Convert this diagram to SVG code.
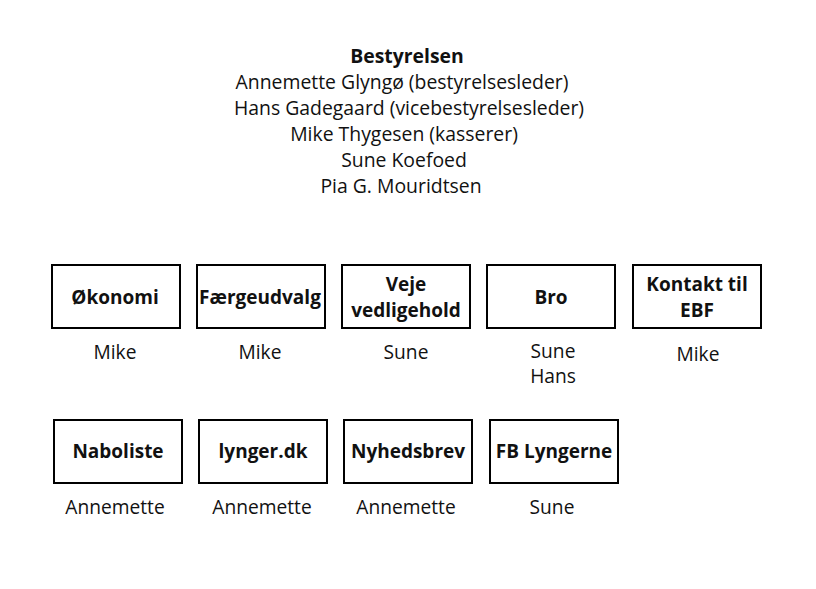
<svg xmlns="http://www.w3.org/2000/svg" width="816" height="589" viewBox="0 0 816 589">
<style>
text{font-family:"Open Sans","Liberation Sans",sans-serif;fill:#111;text-anchor:middle}
.h{font-size:19.4px}
.b{font-size:19.4px;font-weight:bold}
.n{font-size:19px;font-weight:bold}
.l{font-size:19.2px}
rect{fill:#fff;stroke:#000;stroke-width:2}
</style>
<rect x="0" y="0" width="816" height="589" style="stroke:none"/>
<g id="bestyrelsen">
<text class="b" x="407" y="63">Bestyrelsen</text>
<text class="h" x="402" y="89">Annemette Glyngø (bestyrelsesleder)</text>
<text class="h" x="409" y="115">Hans Gadegaard (vicebestyrelsesleder)</text>
<text class="h" x="404" y="141">Mike Thygesen (kasserer)</text>
<text class="h" x="404" y="167">Sune Koefoed</text>
<text class="h" x="401" y="193">Pia G. Mouridtsen</text>
</g>
<g id="connectors"></g>
<g id="okonomi"><rect x="52" y="265" width="128" height="63"/><text class="n" x="115" y="304">Økonomi</text><text class="l" x="115" y="359">Mike</text></g>
<g id="faergeudvalg"><rect x="197" y="265" width="128" height="63"/><text class="n" x="260" y="304">Færgeudvalg</text><text class="l" x="260" y="359">Mike</text></g>
<g id="veje"><rect x="342" y="265" width="128" height="63"/><text class="n" x="406" y="291">Veje</text><text class="n" x="406" y="317">vedligehold</text><text class="l" x="406" y="359">Sune</text></g>
<g id="bro"><rect x="487" y="265" width="128" height="63"/><text class="n" x="551" y="304">Bro</text><text class="l" x="553" y="358">Sune</text><text class="l" x="553" y="383">Hans</text></g>
<g id="kontakt"><rect x="633" y="265" width="128" height="63"/><text class="n" x="697" y="291">Kontakt til</text><text class="n" x="697" y="317">EBF</text><text class="l" x="698" y="361">Mike</text></g>
<g id="naboliste"><rect x="54" y="420" width="128" height="63"/><text class="n" x="118" y="458">Naboliste</text><text class="l" x="115" y="514">Annemette</text></g>
<g id="lyngerdk"><rect x="199" y="420" width="128" height="63"/><text class="n" x="263" y="458">lynger.dk</text><text class="l" x="262" y="514">Annemette</text></g>
<g id="nyhedsbrev"><rect x="344" y="420" width="128" height="63"/><text class="n" x="408" y="458">Nyhedsbrev</text><text class="l" x="406" y="514">Annemette</text></g>
<g id="fblyngerne"><rect x="490" y="420" width="128" height="63"/><text class="n" x="554" y="458">FB Lyngerne</text><text class="l" x="552" y="514">Sune</text></g>
</svg>
